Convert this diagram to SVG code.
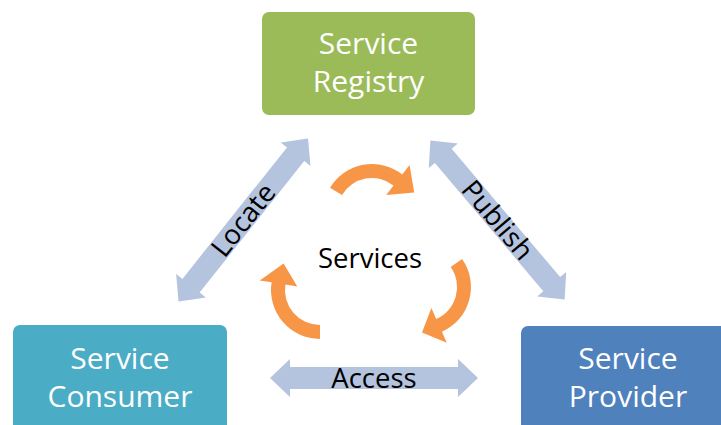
<svg xmlns="http://www.w3.org/2000/svg" width="721" height="425" viewBox="0 0 721 425">
<style>
.node-text{font-family:"Open Sans","Liberation Sans",sans-serif;font-size:30px;fill:#FFFFFF;text-anchor:middle}
.lbl{font-family:"Open Sans","Liberation Sans",sans-serif;font-size:27.5px;fill:#000000;text-anchor:middle}
.dbl{fill:#B4C3DE}
.cyc{fill:#F79646}
</style>
<defs>
<path id="dblArrow" d="M-104,0 L-84,-19 L-84,-11 L84,-11 L84,-19 L104,0 L84,19 L84,11 L-84,11 L-84,19 Z"/>
</defs>
<rect width="721" height="425" fill="#FFFFFF"/>
<g id="connectors">
<g id="locate" transform="translate(243.3,220) rotate(-51.5)">
<use href="#dblArrow" class="dbl"/>
<text class="lbl" x="0" y="9.5">Locate</text>
</g>
<g id="publish" transform="translate(497.5,220) rotate(49.8)">
<use href="#dblArrow" class="dbl"/>
<text class="lbl" x="0" y="9.5">Publish</text>
</g>
<g id="access" transform="translate(374,378)">
<use href="#dblArrow" class="dbl"/>
<text class="lbl" x="0" y="10">Access</text>
</g>
</g>
<g id="services-cycle">
<path class="cyc" d="M330.0,187.8 A49,49 0 0,1 402.2,174.4 L409.6,164.9 L414.2,192.4 L386.2,194.9 L393.5,185.4 A35,35 0 0,0 342.0,195.0 Z"/>
<path class="cyc" d="M462.1,258.9 A49,49 0 0,1 441.9,331.8 L446.8,342.7 L422,332.5 L431.4,308.0 L436.2,319.0 A35,35 0 0,0 450.7,266.9 Z"/>
<path class="cyc" d="M320,339 A49,49 0 0,1 271.6,282.3 L259.8,280.5 L283.6,263.5 L297.3,286.4 L285.4,284.5 A35,35 0 0,0 320,325 Z"/>
<text class="lbl" x="370" y="268">Services</text>
</g>
<g id="registry">
<rect x="262" y="12" width="213" height="103" rx="7" fill="#9BBB59"/>
<text class="node-text" x="368.5" y="53.5">Service</text>
<text class="node-text" x="368.5" y="91.5">Registry</text>
</g>
<g id="consumer">
<rect x="13" y="325" width="214" height="110" rx="7" fill="#4BACC6"/>
<text class="node-text" x="120" y="368.5">Service</text>
<text class="node-text" x="120" y="407">Consumer</text>
</g>
<g id="provider">
<rect x="521" y="326" width="214" height="110" rx="7" fill="#4F81BD"/>
<text class="node-text" x="628" y="368.5">Service</text>
<text class="node-text" x="628" y="407">Provider</text>
</g>
</svg>
